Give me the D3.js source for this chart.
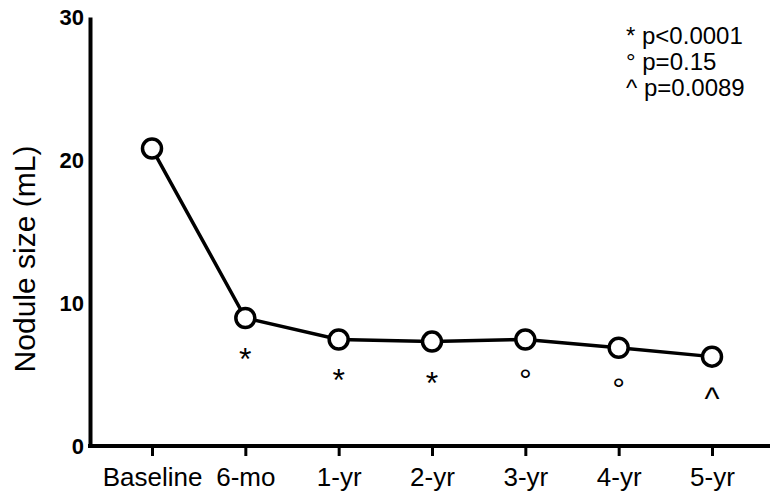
<!DOCTYPE html>
<html>
<head>
<meta charset="utf-8">
<script src="https://cdn.jsdelivr.net/npm/d3@7"></script>
<style>
  body { margin: 0; background: #fff; }
  svg { display: block; font-family: "Liberation Sans", Arial, sans-serif; }
</style>
</head>
<body>
<div id="chart"></div>
<script>
// Chart data.
var categories = ['Baseline', '6-mo', '1-yr', '2-yr', '3-yr', '4-yr', '5-yr'];
var sizes = [20.8, 8.95, 7.45, 7.3, 7.45, 6.87, 6.25];
var marks = ['', '*', '*', '*', '\u00b0', '\u00b0', '^'];
var yTicks = [0, 10, 20, 30];
var legendLines = [
  ['*', 'p<0.0001'],
  ['\u00b0', 'p=0.15'],
  ['^', 'p=0.0089']
];

var w = 770,
  h = 493;

var svg = d3.select('#chart')
  .append('svg')
  .attr('width', w)
  .attr('height', h);

var x = d3.scalePoint()
  .domain(categories)
  .range([152, 712]);

var y = d3.scaleLinear()
  .domain([0, 30])
  .range([446, 17]);

// Y axis, no tick marks.
var yAxis = svg.append('g')
  .attr('transform', 'translate(90,0)')
  .call(d3.axisLeft(y).tickValues(yTicks).tickSize(0).tickPadding(6));
yAxis.select('.domain')
  .attr('stroke', '#000')
  .attr('stroke-width', 4);
yAxis.selectAll('text')
  .attr('font-size', 22)
  .attr('font-weight', 'bold')
  .attr('fill', '#000')
  .attr('font-family', null);

// X axis, line runs to the right edge.
var xAxis = svg.append('g')
  .attr('transform', 'translate(0,446)')
  .call(d3.axisBottom(x).tickSize(10).tickPadding(12));
xAxis.select('.domain').remove();
xAxis.selectAll('.tick line')
  .attr('stroke', '#000')
  .attr('stroke-width', 3);
xAxis.selectAll('text')
  .attr('font-size', 26)
  .attr('fill', '#000')
  .attr('font-family', null);
svg.append('line')
  .attr('x1', 88)
  .attr('x2', w)
  .attr('y1', 446)
  .attr('y2', 446)
  .attr('stroke', '#000')
  .attr('stroke-width', 4);

// Y title.
svg.append('text')
  .attr('transform', 'translate(35,259) rotate(-90)')
  .attr('text-anchor', 'middle')
  .attr('font-size', 30)
  .text('Nodule size (mL)');

// Line and points.
var line = d3.line()
  .x(function (d, i) { return x(categories[i]); })
  .y(function (d) { return y(d); });

svg.append('path')
  .datum(sizes)
  .attr('fill', 'none')
  .attr('stroke', '#000')
  .attr('stroke-width', 3.5)
  .attr('d', line);

svg.selectAll('circle.pt')
  .data(sizes)
  .enter()
  .append('circle')
  .attr('class', 'pt')
  .attr('cx', function (d, i) { return x(categories[i]); })
  .attr('cy', function (d) { return y(d); })
  .attr('r', 9.5)
  .attr('fill', '#fff')
  .attr('stroke', '#000')
  .attr('stroke-width', 3.5);

// Significance marks under the points.
svg.selectAll('text.mark')
  .data(sizes)
  .enter()
  .append('text')
  .attr('class', 'mark')
  .attr('x', function (d, i) { return x(categories[i]); })
  .attr('y', function (d) { return y(d) + 52; })
  .attr('text-anchor', 'middle')
  .attr('font-size', 32)
  .text(function (d, i) { return marks[i]; });

// Legend.
svg.selectAll('text.legend')
  .data(legendLines)
  .enter()
  .append('text')
  .attr('class', 'legend')
  .attr('x', 626)
  .attr('y', function (d, i) { return 44 + i * 26; })
  .attr('font-size', 24)
  .text(function (d) { return d[0] + ' ' + d[1]; });
</script>
</body>
</html>
